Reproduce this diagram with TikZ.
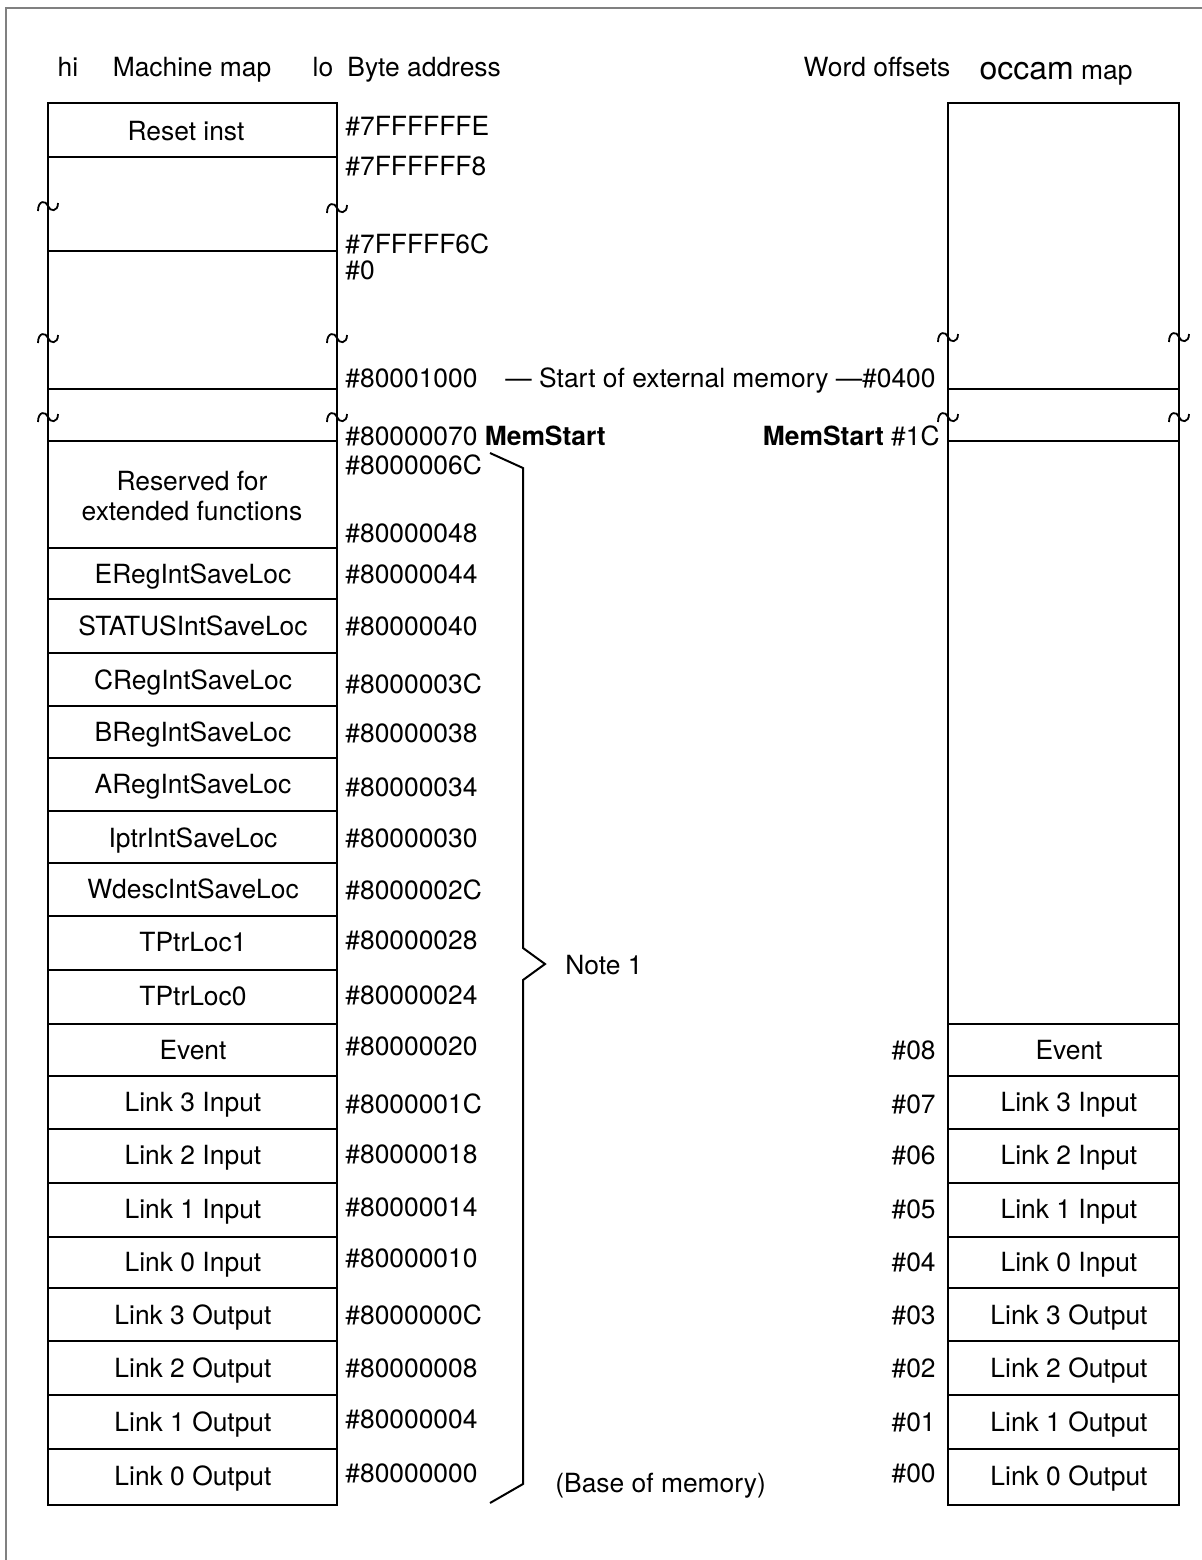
\documentclass[tikz,border=0pt]{standalone}
\usepackage{fontspec}
\setmainfont{TeX Gyre Heros}
\newcommand\wavy[2]{\draw[line width=0.9pt] ({#1-10},{#2+5}) .. controls ({#1-10},{#2-6}) and ({#1-2},{#2-6}) .. ({#1},{#2}) .. controls ({#1+2},{#2+6}) and ({#1+10},{#2+6}) .. ({#1+10},{#2-3});}
\begin{document}
\begin{tikzpicture}[x=0.5pt,y=-0.5pt,
  lbl/.style={font=\fontsize{13.2}{15}\selectfont, inner sep=0pt, text height=0.72em, text depth=0pt, yshift=-1pt},
  addr/.style={lbl, anchor=west},
  off/.style={lbl, anchor=east},
  boxline/.style={draw=black, line width=1pt},
  frameline/.style={draw=gray, line width=1pt}]
\useasboundingbox (0,0) rectangle (1202,1560);
% frame
\draw[frameline] (1202,8) -- (6,8) -- (6,1560);

% headers
\node[lbl] (hhi) at (68,67) {hi};
\node[lbl] (hmm) at (192,67) {Machine map};
\node[lbl] (hlo) at (323,67) {lo};
\node[addr] (hba) at (347,67) {Byte address};
\node[lbl] (hwo) at (877,67) {Word offsets};
\node[lbl] (hom) at (1056,70) {{\fontsize{16}{18}\selectfont occam} map};

% left column
\draw[boxline] (48,103) rectangle (337,1505);
\foreach \y in {157,251,389,441,548,599,653,706,758,811,863,916,970,1024,1076,1129,1183,1237,1288,1341,1395,1449}
  \draw[boxline] (48,\y) -- (337,\y);
% right column
\draw[boxline] (948,103) rectangle (1179,1505);
\foreach \y in {389,441,1024,1076,1129,1183,1237,1288,1341,1395,1449}
  \draw[boxline] (948,\y) -- (1179,\y);

% tildes
\wavy{48}{206}\wavy{337}{208}
\wavy{48}{338}\wavy{337}{338}
\wavy{48}{417}\wavy{337}{417}
\wavy{948}{337}\wavy{1179}{337}
\wavy{948}{417}\wavy{1179}{417}

% left cell labels
\node[lbl] (lreset) at (186,131) {Reset inst};
\node[lbl, align=center, text height=, text depth=] (lres) at (192,494) {Reserved for\\extended functions};
\foreach \t/\y [count=\i] in {ERegIntSaveLoc/574, STATUSIntSaveLoc/626, CRegIntSaveLoc/680, BRegIntSaveLoc/732, ARegIntSaveLoc/784, IptrIntSaveLoc/838, WdescIntSaveLoc/889, TPtrLoc1/942, TPtrLoc0/996, Event/1050, Link 3 Input/1102, Link 2 Input/1155, Link 1 Input/1209, Link 0 Input/1262, Link 3 Output/1315, Link 2 Output/1368, Link 1 Output/1422, Link 0 Output/1476}
  \node[lbl] (lc\i) at (193,\y) {\t};

% right cell labels
\foreach \t/\y [count=\i] in {Event/1050, Link 3 Input/1102, Link 2 Input/1155, Link 1 Input/1209, Link 0 Input/1262, Link 3 Output/1315, Link 2 Output/1368, Link 1 Output/1422, Link 0 Output/1476}
  \node[lbl] (rc\i) at (1069,\y) {\t};

% byte addresses
\foreach \t/\y [count=\i] in {7FFFFFFE/126, 7FFFFFF8/166, 7FFFFF6C/244, 0/270, 80001000/378, 8000006C/465, 80000048/533, 80000044/574, 80000040/626, 8000003C/684, 80000038/733, 80000034/787, 80000030/838, 8000002C/890, 80000028/940, 80000024/995, 80000020/1046, 8000001C/1104, 80000018/1154, 80000014/1207, 80000010/1258, 8000000C/1315, 80000008/1368, 80000004/1419, 80000000/1473}
  \node[addr] (ba\i) at (345,\y) {\#\t};
\node[addr] (bams) at (345,436) {\#80000070 \textbf{MemStart}};
\node[off] (ext) at (936,378) {— Start of external memory —\#0400};
\node[off] (wms) at (940,436) {\textbf{MemStart} \#1C};

% word offsets
\foreach \t/\y [count=\i] in {08/1050, 07/1104, 06/1155, 05/1209, 04/1262, 03/1315, 02/1368, 01/1422, 00/1473}
  \node[off] (wo\i) at (936,\y) {\#\t};

% brace
\draw[line width=1pt] (490,453) -- (523,468) -- (523,948) -- (545,964) -- (523,980) -- (523,1484) -- (490,1503);
\node[addr] (note) at (565,965) {Note 1};
\node[addr] (base) at (555,1483) {(Base of memory)};
\end{tikzpicture}
\end{document}
